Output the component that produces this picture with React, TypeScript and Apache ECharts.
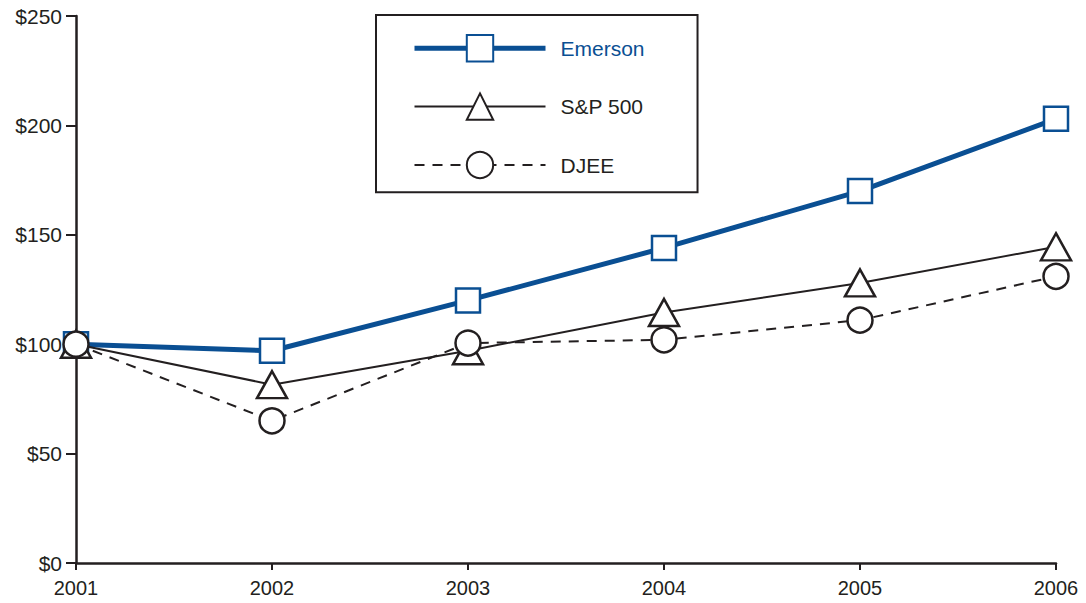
import React, { useEffect, useRef } from "react";
import * as echarts from "echarts";

const years = ["2001", "2002", "2003", "2004", "2005", "2006"];
const emerson = [100, 97, 120, 144, 170, 203];
const sp500 = [100, 81.5, 97, 114.5, 128, 144.5];
const djee = [100, 65, 100.5, 102, 111, 131];

const BLUE = "#0a4f93";
const DARK = "#231f20";

export default function App() {
  const ref = useRef<HTMLDivElement>(null);
  useEffect(() => {
    const chart = echarts.init(ref.current!, undefined, { renderer: "svg" });
    chart.setOption({
      animation: false,
      backgroundColor: "#ffffff",
      textStyle: { fontFamily: "Liberation Sans, Arial, sans-serif" },
      grid: { left: 76, right: 30, top: 16, bottom: 40 },
      legend: {
        orient: "vertical",
        left: 376,
        top: 15,
        padding: [19, 53, 13, 36],
        itemWidth: 131,
        itemHeight: 33,
        itemGap: 30,
        borderColor: DARK,
        borderWidth: 2,
        borderRadius: 0,
        selectedMode: false,
        textStyle: { fontSize: 21, color: DARK, padding: [0, 0, 0, 10] },
        data: [
          { name: "Emerson", textStyle: { color: BLUE }, lineStyle: { width: 5 } },
          { name: "S&P 500", lineStyle: { width: 2 } },
          { name: "DJEE", lineStyle: { width: 2 } },
        ],
      },
      xAxis: {
        type: "category",
        data: years,
        boundaryGap: false,
        axisLine: { lineStyle: { color: DARK, width: 2.5 } },
        axisTick: { length: 7, lineStyle: { color: DARK, width: 2 } },
        axisLabel: { fontSize: 20, color: DARK, margin: 15 },
      },
      yAxis: {
        type: "value",
        min: 0,
        max: 250,
        interval: 50,
        splitLine: { show: false },
        axisLine: { show: true, lineStyle: { color: DARK, width: 2.5 } },
        axisTick: { show: true, length: 10, lineStyle: { color: DARK, width: 2 } },
        axisLabel: { fontSize: 21, color: DARK, margin: 14, formatter: "${value}" },
      },
      series: [
        {
          name: "Emerson",
          type: "line",
          data: emerson,
          symbol: "rect",
          symbolSize: 24,
          lineStyle: { color: BLUE, width: 5 },
          itemStyle: { color: "#ffffff", borderColor: BLUE, borderWidth: 2.5 },
          z: 2,
        },
        {
          name: "S&P 500",
          type: "line",
          data: sp500,
          symbol: "triangle",
          symbolSize: [30, 27],
          lineStyle: { color: DARK, width: 2 },
          itemStyle: { color: "#ffffff", borderColor: DARK, borderWidth: 2.5 },
          z: 3,
        },
        {
          name: "DJEE",
          type: "line",
          data: djee,
          symbol: "circle",
          symbolSize: 25,
          lineStyle: { color: DARK, width: 2, type: [10, 8] },
          itemStyle: { color: "#ffffff", borderColor: DARK, borderWidth: 2.5 },
          z: 4,
        },
      ],
    });
    return () => chart.dispose();
  }, []);
  return <div ref={ref} style={{ width: 1086, height: 603, position: "absolute", left: 0, top: 0 }} />;
}
